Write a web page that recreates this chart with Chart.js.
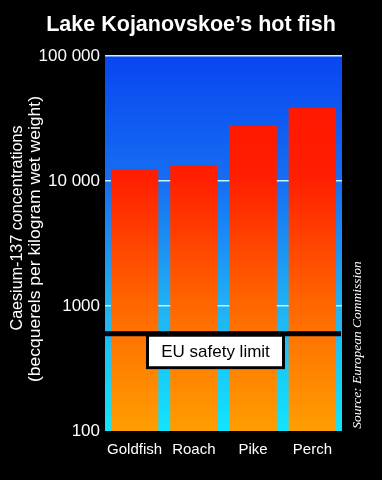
<!DOCTYPE html>
<html>
<head>
<meta charset="utf-8">
<script src="https://cdn.jsdelivr.net/npm/chart.js@4/dist/chart.umd.min.js"></script>
<style>
  html, body { margin: 0; padding: 0; background: #000; }
  canvas { display: block; }
</style>
</head>
<body>
<canvas id="c" width="382" height="480"></canvas>
<script>
const categories = ['Goldfish', 'Roach', 'Pike', 'Perch'];
const caesiumValues = [12500, 13300, 27500, 38500];
const tickValues = [100, 1000, 10000, 100000];
const tickLabels = ['100', '1000', '10 000', '100 000'];
const euLimit = 600;
const euLabel = 'EU safety limit';
const chartTitle = 'Lake Kojanovskoe\u2019s hot fish';
const yTitleLines = ['Caesium-137 concentrations', '(becquerels per kilogram wet weight)'];
const sourceText = 'Source: European Commission';

const FONT = '"Liberation Sans", Arial, sans-serif';

function barGradient(ctx) {
  const area = ctx.chart.chartArea;
  if (!area) return '#ff4000';
  const g = ctx.chart.ctx.createLinearGradient(0, area.top, 0, area.bottom);
  g.addColorStop(0, '#ff1400');
  g.addColorStop(0.32, '#ff1e00');
  g.addColorStop(0.66, '#ff6600');
  g.addColorStop(1, '#ff9e00');
  return g;
}

function rotatedText(ctx, text, cx, cy, targetLen) {
  ctx.save();
  ctx.translate(cx, cy);
  ctx.rotate(-Math.PI / 2);
  const w = ctx.measureText(text).width;
  if (targetLen) ctx.scale(targetLen / w, 1);
  ctx.fillText(text, 0, 0);
  ctx.restore();
}

const decor = {
  id: 'decor',
  beforeDraw(chart) {
    const { ctx, chartArea: a } = chart;
    ctx.save();
    ctx.fillStyle = '#000';
    ctx.fillRect(0, 0, chart.width, chart.height);
    const g = ctx.createLinearGradient(0, a.top, 0, a.bottom);
    g.addColorStop(0, '#0846f0');
    g.addColorStop(0.33, '#166ef2');
    g.addColorStop(0.67, '#20b2f4');
    g.addColorStop(1, '#12e4fc');
    ctx.fillStyle = g;
    ctx.fillRect(a.left, a.top, a.right - a.left, a.bottom - a.top);
    ctx.restore();
  },
  afterDatasetsDraw(chart) {
    const { ctx, chartArea: a, scales } = chart;
    const y = scales.y.getPixelForValue(euLimit);
    ctx.save();
    ctx.fillStyle = '#000';
    ctx.fillRect(a.left, y - 2.5, a.right - a.left - 1, 5);
    const bx = 146, bw = 139, by = y + 1.5, bh = 34;
    ctx.fillStyle = '#fff';
    ctx.fillRect(bx, by, bw, bh);
    ctx.lineWidth = 3;
    ctx.strokeStyle = '#000';
    ctx.strokeRect(bx + 1.5, by, bw - 3, bh - 1.5);
    ctx.fillStyle = '#000';
    ctx.font = '17px ' + FONT;
    ctx.textAlign = 'center';
    ctx.textBaseline = 'middle';
    ctx.fillText(euLabel, bx + bw / 2, by + bh / 2);
    ctx.restore();
  },
  afterDraw(chart) {
    const { ctx } = chart;
    ctx.save();
    ctx.fillStyle = '#fff';
    ctx.font = 'bold 21.5px ' + FONT;
    ctx.textAlign = 'center';
    ctx.textBaseline = 'alphabetic';
    ctx.fillText(chartTitle, 191, 31);

    ctx.font = '16px ' + FONT;
    ctx.textBaseline = 'middle';
    rotatedText(ctx, yTitleLines[0], 18, 228, 205);
    rotatedText(ctx, yTitleLines[1], 36, 239, 286);

    ctx.font = 'italic 13.5px "Liberation Serif", "Times New Roman", serif';
    rotatedText(ctx, sourceText, 357, 345, 0);
    ctx.restore();
  }
};

new Chart(document.getElementById('c'), {
  type: 'bar',
  data: {
    labels: categories,
    datasets: [{
      data: caesiumValues,
      backgroundColor: barGradient,
      borderWidth: 0,
      barPercentage: 0.8,
      categoryPercentage: 1
    }]
  },
  options: {
    responsive: false,
    animation: false,
    devicePixelRatio: 1,
    layout: { padding: { top: 56, right: 40, bottom: 0, left: 0 } },
    plugins: { legend: { display: false }, title: { display: false }, tooltip: { enabled: false } },
    scales: {
      x: {
        grid: { display: false, drawTicks: false },
        border: { display: false },
        ticks: {
          color: '#fff', font: { family: FONT, size: 15 }, padding: 10,
          maxRotation: 0, minRotation: 0, autoSkip: false
        },
        afterFit(s) { s.height = 49; }
      },
      y: {
        type: 'logarithmic',
        min: 100,
        max: 100000,
        border: { display: false },
        grid: {
          drawTicks: false,
          lineWidth: 1.5,
          color: (c) => (c.tick && c.tick.value === 100) ? 'rgba(0,0,0,0)' : '#c8f4ff'
        },
        afterBuildTicks(s) { s.ticks = tickValues.map(v => ({ value: v })); },
        ticks: {
          color: '#fff',
          font: { family: FONT, size: 17 },
          padding: 5,
          callback: (v) => { const i = tickValues.indexOf(v); return i >= 0 ? tickLabels[i] : ''; }
        },
        afterFit(s) { s.width = 105; }
      }
    }
  },
  plugins: [decor]
});
</script>
</body>
</html>
